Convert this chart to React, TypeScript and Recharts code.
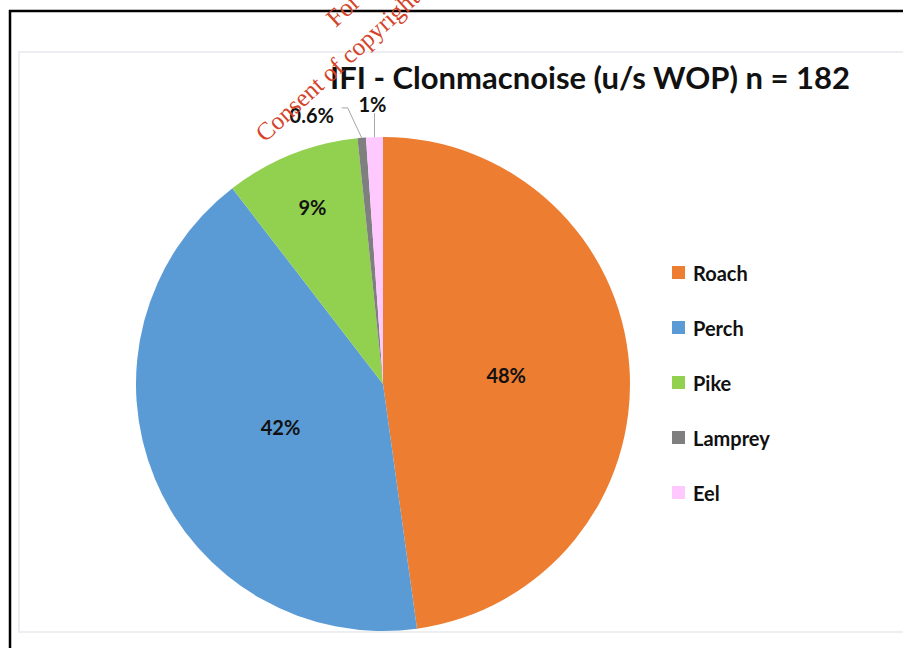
import React from 'react';
import { PieChart, Pie, Cell, Legend } from 'recharts';

const categories = ['Roach', 'Perch', 'Pike', 'Lamprey', 'Eel'];
const counts = [87, 76, 16, 1, 2];
const percentLabels = ['48%', '42%', '9%', '0.6%', '1%'];
const colors = ['#ED7D31', '#5B9BD5', '#92D050', '#7F7F7F', '#FFC9FF'];
const title = 'IFI - Clonmacnoise (u/s WOP) n = 182';
const watermarkTop = 'For inspection purposes only.';
const watermarkBottom = 'Consent of copyright owner required for any other use.';

const data = categories.map((name, i) => ({ name, value: counts[i] }));

const FONT = 'Lato, "Open Sans", sans-serif';
const RAD = Math.PI / 180;

const renderLabel = (props: any) => {
  const { cx, cy, midAngle, outerRadius, percent, index } = props;
  const c = Math.cos(-midAngle * RAD);
  const s = Math.sin(-midAngle * RAD);
  const text = percentLabels[index];
  const style = { fontFamily: FONT, fontWeight: 700, fontSize: 20, fill: '#111' };
  if (percent > 0.3) {
    const r = (index === 0 ? 0.5 : 0.45) * outerRadius;
    return (
      <text x={cx + r * c} y={cy + r * s} textAnchor="middle" dominantBaseline="central" style={style}>
        {text}
      </text>
    );
  }
  if (percent > 0.05) {
    const r = 0.77 * outerRadius;
    return (
      <text x={cx + r * c} y={cy + r * s} textAnchor="middle" dominantBaseline="central" style={style}>
        {text}
      </text>
    );
  }
  const ex = cx + outerRadius * c;
  const ey = cy + outerRadius * s;
  if (percent < 0.008) {
    return (
      <g>
        <polyline
          points={`${ex},${ey} ${ex - 14},${ey - 30} ${ex - 20},${ey - 30}`}
          fill="none"
          stroke="#A6A6A6"
          strokeWidth={1}
        />
        <text x={ex - 50} y={ey - 23} textAnchor="middle" dominantBaseline="central" style={style}>
          {text}
        </text>
      </g>
    );
  }
  return (
    <g>
      <line x1={ex} y1={ey} x2={ex} y2={ey - 24} stroke="#A6A6A6" strokeWidth={1} />
      <text x={ex - 2} y={ey - 33} textAnchor="middle" dominantBaseline="central" style={style}>
        {text}
      </text>
    </g>
  );
};

const renderLegend = (props: any) => {
  const payload = [...(props.payload || [])].sort(
    (a: any, b: any) => categories.indexOf(a.value) - categories.indexOf(b.value)
  );
  return (
    <div style={{ fontFamily: FONT }}>
      {payload.map((entry: any, i: number) => (
        <div key={i} style={{ height: 55, display: 'flex', alignItems: 'center' }}>
          <span
            style={{
              display: 'inline-block',
              width: 13,
              height: 13,
              background: entry.color,
              marginRight: 8,
            }}
          />
          <span style={{ fontSize: 20, fontWeight: 700, color: '#111' }}>{entry.value}</span>
        </div>
      ))}
    </div>
  );
};

export default function App() {
  return (
    <div style={{ position: 'absolute', left: 0, top: 0, width: 903, height: 648, background: '#fff', overflow: 'hidden' }}>
      <svg width={903} height={648} style={{ position: 'absolute', left: 0, top: 0 }}>
        <rect x={19} y={52} width={900} height={580} fill="#fff" stroke="#ECEEF1" strokeWidth={2} />
      </svg>
      <div style={{ position: 'absolute', left: 0, top: 0 }}>
        <PieChart width={903} height={648} margin={{ top: 0, right: 0, bottom: 0, left: 0 }}>
          <Pie
            data={data}
            dataKey="value"
            nameKey="name"
            cx={383}
            cy={384}
            outerRadius={247}
            startAngle={90}
            endAngle={-270}
            stroke="none"
            label={renderLabel}
            labelLine={false}
            isAnimationActive={false}
          >
            {data.map((d, i) => (
              <Cell key={d.name} fill={colors[i]} />
            ))}
          </Pie>
          <Legend
            layout="vertical"
            content={renderLegend}
            wrapperStyle={{ left: 672, top: 245, width: 160 }}
          />
        </PieChart>
      </div>
      <svg width={903} height={648} style={{ position: 'absolute', left: 0, top: 0, pointerEvents: 'none' }}>
        <text
          x={590}
          y={77}
          textAnchor="middle"
          dominantBaseline="central"
          style={{ fontFamily: FONT, fontWeight: 700, fontSize: 31, fill: '#111' }}
        >
          {title}
        </text>
        <line x1={9} y1={11} x2={903} y2={11} stroke="#000" strokeWidth={2.5} />
        <line x1={10} y1={10} x2={10} y2={648} stroke="#000" strokeWidth={2.5} />
        <g transform="translate(265,143) rotate(-42.5)">
          <text x={0} y={0} style={{ fontFamily: '"Liberation Serif", serif', fontSize: 25, fill: '#D4442A' }}>
            {watermarkBottom}
          </text>
          <text x={130} y={-37} style={{ fontFamily: '"Liberation Serif", serif', fontSize: 25, fill: '#D4442A' }}>
            {watermarkTop}
          </text>
        </g>
      </svg>
    </div>
  );
}
